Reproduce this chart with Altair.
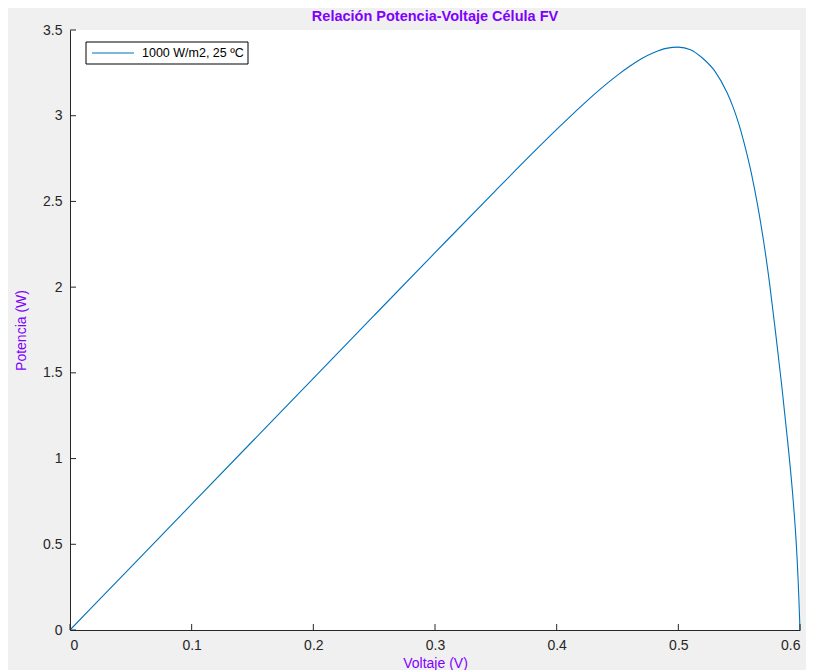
import altair as alt
import pandas as pd

voltaje = [0.0, 0.05, 0.1, 0.15, 0.2, 0.25, 0.3, 0.35, 0.38, 0.40, 0.42, 0.44, 0.45,
           0.46, 0.47, 0.48, 0.49, 0.50, 0.51, 0.52, 0.53, 0.54, 0.545, 0.55, 0.555,
           0.56, 0.565, 0.57, 0.575, 0.58, 0.585, 0.59, 0.594, 0.597, 0.599, 0.6]
potencia = [0.0, 0.367, 0.734, 1.101, 1.468, 1.835, 2.201, 2.565, 2.780, 2.920,
            3.055, 3.180, 3.237, 3.289, 3.334, 3.369, 3.393, 3.400, 3.385, 3.335,
            3.260, 3.135, 3.050, 2.945, 2.815, 2.665, 2.484, 2.272, 2.022, 1.730,
            1.425, 1.090, 0.790, 0.495, 0.200, 0.0]
serie = "1000 W/m2, 25 ºC"

x_ticks = [0, 0.1, 0.2, 0.3, 0.4, 0.5, 0.6]
y_ticks = [0, 0.5, 1, 1.5, 2, 2.5, 3, 3.5]

df = pd.DataFrame({"V": voltaje, "P": potencia})
dfx = pd.DataFrame({"t": x_ticks})
dfy = pd.DataFrame({"t": y_ticks})
dfl = pd.DataFrame({"serie": [serie]})

purple = "#8000ff"
axis_gray = "#262626"
line_color = "#0072BD"
font = "Liberation Sans"

xs = alt.Scale(domain=[0, 0.6], nice=False, zero=False)
ys = alt.Scale(domain=[0, 3.5], nice=False, zero=False)

line = alt.Chart(df).mark_line(strokeWidth=1.1, interpolate="monotone",
                               color=line_color).encode(
    x=alt.X("V:Q", scale=xs, title="Voltaje (V)",
            axis=alt.Axis(values=x_ticks, format="~g", tickSize=0, labelPadding=8,
                          titlePadding=4, domainColor=axis_gray, labelColor=axis_gray,
                          labelFont=font, labelFontSize=14, titleFont=font,
                          titleFontSize=14, titleFontWeight="normal", titleColor=purple,
                          grid=False)),
    y=alt.Y("P:Q", scale=ys, title="Potencia (W)",
            axis=alt.Axis(values=y_ticks, format="~g", tickSize=0, labelPadding=8,
                          titlePadding=14, domainColor=axis_gray, labelColor=axis_gray,
                          labelFont=font, labelFontSize=14, titleFont=font,
                          titleFontSize=14, titleFontWeight="normal", titleColor=purple,
                          grid=False)),
)

xt = alt.Chart(dfx).mark_rule(color=axis_gray, strokeWidth=1).encode(
    x=alt.X("t:Q", scale=xs), y=alt.value(600), y2=alt.value(594))
yt = alt.Chart(dfy).mark_rule(color=axis_gray, strokeWidth=1).encode(
    y=alt.Y("t:Q", scale=ys), x=alt.value(0), x2=alt.value(6))

leg_box = alt.Chart(dfl).mark_rect(fill="#ffffff", stroke="#000000",
                                   strokeWidth=1).encode(
    x=alt.value(16), x2=alt.value(178), y=alt.value(12), y2=alt.value(34))
leg_line = alt.Chart(dfl).mark_rule(color=line_color, strokeWidth=1.1).encode(
    x=alt.value(22), x2=alt.value(64), y=alt.value(23))
leg_text = alt.Chart(dfl).mark_text(align="left", baseline="middle", font=font,
                                    fontSize=12.5, color="#000000").encode(
    x=alt.value(72), y=alt.value(23), text="serie:N")

chart = alt.layer(line, xt, yt, leg_box, leg_line, leg_text).properties(
    width=730, height=600,
    title=alt.TitleParams("Relación Potencia-Voltaje Célula FV", font=font,
                          fontSize=14.5, fontWeight="bold", color=purple,
                          anchor="middle", offset=-1),
    background="#f0f0f0",
    autosize=alt.AutoSizeParams(type="none"),
    padding={"left": 62, "top": 22, "right": 6, "bottom": 40},
).configure_view(fill="#ffffff", stroke=None)

chart.save("out.html", embed_options={"renderer": "svg", "actions": False})
